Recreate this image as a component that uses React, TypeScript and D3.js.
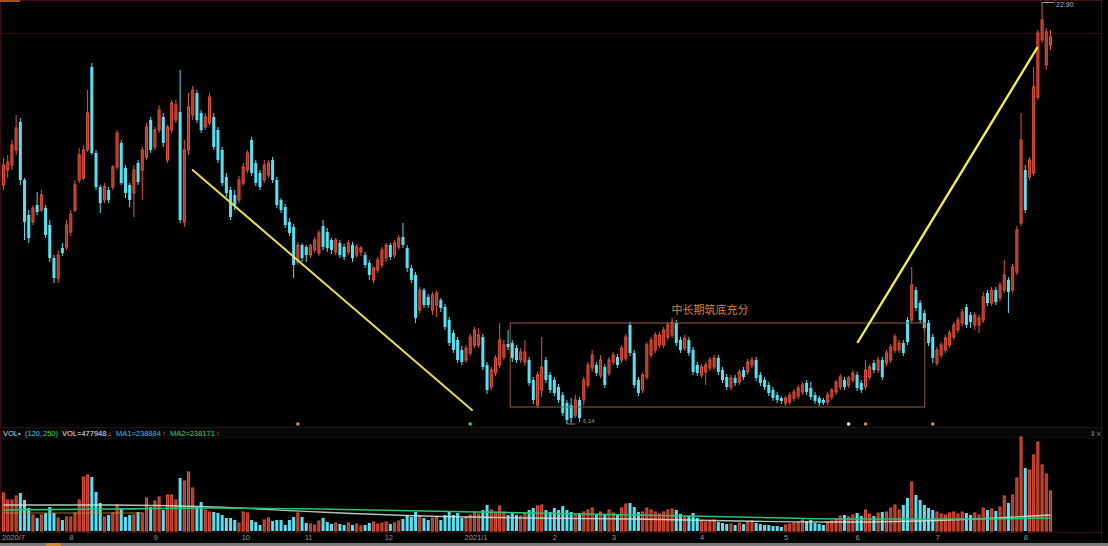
import React, { useEffect, useRef } from "react";
import * as d3 from "d3";

// ---------- price data (daily candles) ----------
const opens = [
  15.70,16.30,16.50,17.10,18.22,15.90,14.50,14.22,14.90,14.70,
  14.78,14.10,12.78,11.98,13.18,13.22,13.82,14.70,15.90,15.98,
  17.10,20.42,16.98,15.62,15.10,15.50,15.62,16.42,17.38,16.38,
  15.70,15.38,16.58,16.30,16.82,18.30,17.22,17.90,18.42,16.70,
  17.90,18.30,18.62,14.22,17.10,18.50,19.38,18.58,18.02,18.18,
  18.42,17.90,17.10,16.02,15.50,15.30,15.10,15.78,16.30,17.50,
  16.58,16.18,15.90,16.10,16.70,15.90,15.10,14.82,14.22,14.02,
  12.62,13.30,13.22,12.90,13.10,12.98,14.06,13.82,13.50,13.02,
  13.38,13.22,13.02,13.30,12.90,13.02,12.90,12.58,11.90,12.30,
  12.50,12.78,13.30,12.90,13.22,13.62,13.18,12.38,12.10,10.70,
  11.50,11.22,10.70,10.90,11.10,10.82,10.30,9.78,9.50,9.10,
  8.70,8.98,9.30,9.30,9.62,8.50,7.62,8.18,8.50,8.82,
  9.34,9.38,9.18,8.70,8.62,8.70,7.90,6.90,7.50,8.70,
  8.10,7.90,7.62,7.30,6.98,6.90,6.50,7.10,7.10,7.70,
  8.38,8.50,8.10,8.42,8.18,8.62,8.82,8.70,8.78,10.10,
  8.98,7.90,7.50,8.02,8.90,9.10,9.30,9.30,9.62,9.70,
  10.18,9.50,9.18,9.50,9.10,8.50,8.10,8.22,8.38,8.42,
  8.78,8.30,8.02,7.62,7.98,7.82,8.30,8.22,8.50,8.70,
  8.10,7.90,7.70,7.50,7.30,7.18,6.98,7.02,7.18,7.26,
  7.42,7.78,7.58,7.30,7.18,7.10,7.02,7.22,7.42,7.62,
  7.90,7.70,7.90,8.10,7.78,7.62,8.02,8.58,8.30,8.70,
  8.58,8.70,9.10,9.10,9.38,10.30,10.30,11.50,10.98,10.58,
  10.18,9.62,8.58,8.90,9.10,9.30,9.62,9.90,10.18,10.82,
  10.50,10.10,10.10,10.30,11.38,10.98,11.50,11.18,11.50,11.90,
  11.50,12.22,14.18,16.30,16.02,16.18,19.22,21.50,20.50,21.30,
];

const closes = [
  16.50,16.62,17.30,17.98,15.90,14.22,13.58,14.78,14.62,15.30,
  13.70,12.78,11.98,12.90,12.98,14.10,14.54,15.70,16.90,17.10,
  18.58,16.98,15.62,14.98,15.62,15.10,16.42,17.78,15.78,15.38,
  15.10,16.30,15.82,17.10,18.02,17.10,17.90,18.70,17.38,18.02,
  18.98,18.90,14.30,17.10,18.82,19.50,18.30,17.90,18.42,19.22,
  17.22,16.70,15.78,15.38,14.42,14.90,15.90,16.42,16.98,16.18,
  15.78,15.62,16.50,16.58,15.90,14.90,14.70,14.10,13.78,12.50,
  13.30,12.78,12.90,13.26,13.50,13.78,13.22,13.18,13.10,13.50,
  12.90,12.82,13.38,12.78,13.22,13.18,12.50,12.10,12.38,12.70,
  13.10,13.30,12.82,13.38,13.58,13.30,12.38,11.90,10.38,11.50,
  10.90,10.90,11.30,11.38,10.78,10.02,9.38,9.10,8.70,8.62,
  9.18,9.62,9.90,9.70,8.42,7.50,8.30,8.78,9.50,9.30,
  9.22,8.78,8.70,9.02,9.02,7.78,7.10,8.10,8.42,7.90,
  7.50,7.38,7.10,6.58,6.30,6.38,7.10,6.38,7.90,8.50,
  8.90,8.18,8.70,7.70,8.70,8.90,8.50,9.18,9.62,8.98,
  7.70,7.38,8.10,9.30,9.50,9.70,9.70,9.90,10.10,10.22,
  9.38,9.10,9.58,8.98,8.22,8.18,8.42,8.50,8.70,8.78,
  8.22,7.90,7.62,7.98,7.78,8.22,8.02,8.62,8.70,7.98,
  7.78,7.62,7.38,7.18,7.10,7.06,7.18,7.30,7.42,7.58,
  7.70,7.42,7.22,7.06,6.98,6.98,7.30,7.50,7.82,8.02,
  7.62,7.98,8.18,7.58,7.50,8.30,8.42,8.30,8.70,8.02,
  8.98,9.22,9.62,9.38,8.98,9.42,11.70,10.78,10.30,9.98,
  9.38,8.78,9.10,9.30,9.58,9.78,10.10,10.30,10.62,10.10,
  10.22,10.50,10.38,11.22,10.98,11.50,11.02,11.70,12.10,11.42,
  12.42,13.90,17.50,14.70,16.70,19.62,21.78,22.30,21.82,21.62,
];

const highs = [
  16.78,16.90,17.50,18.50,18.38,15.98,14.70,14.90,15.42,15.50,
  14.90,14.30,12.90,13.10,13.38,14.30,14.70,15.90,17.18,17.30,
  19.50,20.58,17.10,15.70,15.78,15.62,16.50,17.90,17.50,16.50,
  15.78,16.50,16.70,17.22,18.18,18.42,18.02,18.90,18.58,18.10,
  19.10,19.10,20.30,17.50,19.38,19.66,19.50,18.70,18.58,19.38,
  18.58,18.02,17.22,16.18,15.62,15.50,16.06,16.58,17.10,17.62,
  16.70,16.30,16.70,16.70,16.82,16.02,15.18,14.94,14.38,14.14,
  13.42,13.38,13.30,13.34,13.62,13.90,14.30,13.98,13.58,13.58,
  13.50,13.34,13.50,13.42,13.34,13.26,13.02,12.70,12.46,12.82,
  13.22,13.38,13.38,13.50,13.70,14.18,13.30,12.50,12.22,11.62,
  11.58,11.34,11.42,11.50,11.18,10.94,10.42,9.90,9.62,9.26,
  9.30,9.74,10.02,9.98,9.74,8.62,8.42,8.90,10.18,9.50,
  9.90,9.50,9.30,9.18,9.50,8.82,8.02,8.22,9.62,8.82,
  8.22,8.02,7.74,7.42,7.10,7.18,7.30,7.22,8.02,8.62,
  9.10,8.62,8.90,8.54,8.82,9.02,8.94,9.30,9.74,10.22,
  9.10,8.02,8.22,9.42,9.62,9.82,9.82,10.02,10.22,10.38,
  10.30,9.62,9.70,9.62,9.22,8.62,8.54,8.62,8.82,8.90,
  8.90,8.42,8.14,8.10,8.10,8.34,8.42,8.74,8.82,8.82,
  8.22,8.02,7.82,7.62,7.42,7.26,7.26,7.42,7.54,7.70,
  7.82,7.90,7.82,7.42,7.26,7.18,7.42,7.58,7.90,8.14,
  8.02,8.06,8.30,8.22,7.90,8.70,8.54,8.70,8.82,8.82,
  9.10,9.34,9.74,9.50,9.50,10.42,12.42,11.62,11.10,10.70,
  10.30,9.74,9.22,9.42,9.70,9.90,10.22,10.42,10.74,10.94,
  10.62,10.62,10.50,11.42,11.50,11.62,11.62,11.82,12.70,12.02,
  12.54,14.06,18.58,16.50,16.82,20.42,21.90,22.90,21.98,21.90,
];

const lows = [
  15.50,15.98,16.30,16.90,15.70,13.50,13.38,14.10,14.50,14.62,
  13.58,12.62,11.78,11.78,12.86,13.10,13.66,14.62,15.78,15.90,
  17.02,16.90,15.50,14.58,14.98,14.98,15.50,16.30,15.70,15.18,
  14.82,14.42,15.70,15.10,16.70,16.98,17.10,17.78,17.22,16.58,
  17.78,18.18,14.18,14.02,16.90,18.30,18.18,17.78,17.90,18.10,
  17.10,16.58,15.66,15.22,14.30,14.70,14.98,15.66,16.18,16.06,
  15.66,15.50,15.78,15.98,15.78,14.78,14.58,13.98,13.66,11.98,
  12.50,12.62,12.62,12.78,12.98,12.86,13.10,13.02,12.94,12.90,
  12.78,12.70,12.90,12.62,12.78,12.86,12.38,11.90,11.78,12.18,
  12.38,12.62,12.70,12.78,13.10,13.18,12.22,11.78,10.18,10.58,
  10.78,10.78,10.50,10.42,10.62,9.90,9.26,8.98,8.58,8.50,
  8.58,8.86,9.18,9.18,8.30,7.34,7.50,8.06,8.38,8.70,
  9.10,8.62,8.58,8.58,8.46,7.66,6.94,6.78,7.22,7.78,
  7.38,7.26,6.98,6.46,6.14,6.18,6.38,6.22,6.90,7.58,
  8.22,8.06,7.98,7.58,8.06,8.50,8.38,8.58,8.66,8.86,
  7.58,7.26,7.38,7.90,8.78,8.98,9.18,9.18,9.50,9.58,
  9.26,8.98,9.06,8.86,8.10,8.06,7.98,7.70,8.26,8.30,
  8.10,7.78,7.50,7.50,7.66,7.70,7.90,8.10,8.38,7.86,
  7.66,7.50,7.26,7.06,6.98,6.94,6.86,6.90,7.06,7.14,
  7.30,7.30,7.10,6.94,6.86,6.90,6.90,7.10,7.30,7.50,
  7.50,7.58,7.78,7.46,7.38,7.50,7.90,8.18,8.18,7.90,
  8.46,8.58,8.98,8.98,8.86,9.30,10.18,10.66,10.18,9.86,
  9.26,8.58,8.46,8.78,8.98,9.18,9.50,9.78,10.06,9.98,
  9.98,9.90,9.78,10.18,10.86,10.86,10.90,11.06,11.38,10.58,
  11.38,12.10,14.06,14.58,15.90,16.06,19.10,21.38,20.30,21.10,
];

// volume, thousands of shares
const volumes = [
  456,372,372,420,456,372,276,192,156,192,
  216,288,216,156,132,168,168,216,372,648,
  672,648,468,336,168,192,216,312,276,168,
  192,192,228,216,396,288,360,408,252,432,
  432,372,636,600,708,516,288,348,252,228,
  228,216,192,156,156,132,96,228,216,132,
  108,72,132,156,120,132,132,72,132,168,
  216,168,96,84,72,120,156,108,84,96,
  84,72,96,72,84,60,72,96,108,84,
  96,108,84,96,120,144,192,168,228,180,
  156,132,156,168,132,192,228,192,216,156,
  168,192,228,204,252,312,252,228,300,228,
  192,216,192,180,216,252,276,300,312,252,
  228,276,252,300,252,228,192,216,228,252,
  276,192,228,204,252,216,192,276,324,336,
  288,228,228,276,252,228,204,228,252,264,
  252,204,168,180,216,156,120,108,120,132,
  108,96,84,84,72,96,84,108,120,96,
  84,72,72,60,60,48,72,84,96,108,
  132,120,132,96,84,72,108,120,144,180,
  192,168,192,216,180,252,204,180,216,228,
  228,276,312,252,312,396,588,432,372,312,
  276,252,228,204,192,216,228,204,228,216,
  192,216,192,276,252,264,240,288,420,336,
  432,636,1128,756,732,912,1068,792,684,480,
];

// volume moving averages, read at sample candles
const maIndex = [0, 25, 50, 75, 100, 125, 150, 175, 200, 225, 249];
const volMA1 = [312, 312, 288, 228, 180, 156, 144, 120, 108, 132, 192];
const volMA2 = [252, 264, 276, 264, 240, 216, 192, 168, 144, 144, 156];
const volMA3Index = [0, 15, 33];
const volMA3 = [216, 216, 216];

// month axis
const monthLabels = ["2020/7", "8", "9", "10", "11", "12", "2021/1", "2", "3", "4", "5", "6", "7", "8"];
const monthIndex = [0, 16, 36, 57, 72, 91, 110, 131, 145, 166, 186, 203, 222, 243];

// annotations (index, price)
const trendLines: number[][] = [
  [45, 16.3, 111.4, 6.7],
  [203.2, 9.42, 245.8, 21.18],
];
const zone = [120.5, 219.1, 10.18, 6.82];
const zoneLabel = "中长期筑底充分";
const zoneLabelAt = [168, 10.54];
const markerIndex = [70, 111, 201, 205, 221];
const highIndex = 247;
const lowIndex = 134;

// volume header
const headerParts = ["VOL•", "(120,", "250)", "VOL=477948", "↓", "MA1=238884", "↑", "MA2=238171", "↑"];

export default function App() {
  const ref = useRef<SVGSVGElement>(null);

  useEffect(() => {
    document.body.style.margin = "0";
    document.body.style.background = "#000";
    const svg = d3.select(ref.current as SVGSVGElement);
    svg.selectAll("*").remove();

    const W = 1108, H = 546;
    const N = opens.length;
    const RED = "#e4533e", RED_FILL = "#a0301f", CYAN = "#58dff0";

    const x = d3.scaleBand<number>().domain(d3.range(N)).range([2, 1052]).paddingInner(0.28);
    const bw = x.bandwidth();
    const step = x.step();
    const cx = (i: number) => (x(0) as number) + i * step + bw / 2;
    const y = d3.scaleLinear().domain([6.3, 22.9]).range([420, 5]);
    const yv = d3.scaleLinear().domain([0, 1128]).range([531, 437]);

    svg.append("rect").attr("width", W).attr("height", H).attr("fill", "#000");

    // frame & grid
    const frame = svg.append("g").attr("fill", "none");
    frame.append("line").attr("x1", 0).attr("x2", 1101).attr("y1", 0.5).attr("y2", 0.5).attr("stroke", "#4a1010");
    frame.append("line").attr("x1", 0).attr("x2", 1101).attr("y1", 33.5).attr("y2", 33.5).attr("stroke", "#2c0b0b");
    frame.append("line").attr("x1", 0.5).attr("x2", 0.5).attr("y1", 0).attr("y2", 533).attr("stroke", "#3a0c0c");
    frame.append("line").attr("x1", 1101.5).attr("x2", 1101.5).attr("y1", 0).attr("y2", 546).attr("stroke", "#3a0c0c");
    frame.append("line").attr("x1", 0).attr("x2", 1101).attr("y1", 427.5).attr("y2", 427.5).attr("stroke", "#241010");
    svg.append("rect").attr("x", 1).attr("y", 428).attr("width", 1100).attr("height", 11).attr("fill", "#080808");
    frame.append("line").attr("x1", 0).attr("x2", 1101).attr("y1", 532.5).attr("y2", 532.5).attr("stroke", "#3a0c0c");
    svg.append("rect").attr("x", 0).attr("y", 0).attr("width", 20).attr("height", 2).attr("fill", "#a05020");

    // candles
    const cg = svg.append("g");
    d3.range(N).forEach((i) => {
      const up = closes[i] >= opens[i];
      const col = up ? RED : CYAN;
      const c = cx(i);
      const top = y(Math.max(opens[i], closes[i]));
      const bot = y(Math.min(opens[i], closes[i]));
      cg.append("line").attr("x1", c).attr("x2", c).attr("y1", y(highs[i])).attr("y2", y(lows[i]))
        .attr("stroke", col).attr("stroke-width", 1);
      if (up) {
        cg.append("rect").attr("x", c - bw / 2 + 0.5).attr("y", top).attr("width", bw - 1)
          .attr("height", Math.max(1, bot - top)).attr("fill", RED_FILL).attr("stroke", RED).attr("stroke-width", 1);
      } else {
        cg.append("rect").attr("x", c - bw / 2).attr("y", top).attr("width", bw)
          .attr("height", Math.max(1, bot - top)).attr("fill", CYAN);
      }
    });

    // zone box + label
    svg.append("rect").attr("x", cx(zone[0])).attr("y", y(zone[2]))
      .attr("width", cx(zone[1]) - cx(zone[0])).attr("height", y(zone[3]) - y(zone[2]))
      .attr("fill", "none").attr("stroke", "#93603a").attr("stroke-width", 1);
    svg.append("text").attr("x", cx(zoneLabelAt[0])).attr("y", y(zoneLabelAt[1]))
      .attr("text-anchor", "middle").attr("font-family", "'Noto Sans CJK SC', sans-serif")
      .attr("font-size", 11).attr("fill", "#d4843c").text(zoneLabel);

    // trend lines
    const tColors = ["#e4dc58", "#f2ef4a"];
    trendLines.forEach((t, k) => {
      svg.append("line").attr("x1", cx(t[0])).attr("y1", y(t[1])).attr("x2", cx(t[2])).attr("y2", y(t[3]))
        .attr("stroke", tColors[k]).attr("stroke-width", k === 0 ? 2 : 2.4).attr("stroke-linecap", "round");
    });

    // high / low labels
    const hx = cx(highIndex), hy = y(highs[highIndex]);
    svg.append("path").attr("d", `M${hx},${hy} V2.5 H${hx + 12}`).attr("fill", "none").attr("stroke", "#bbb").attr("stroke-width", 0.8);
    svg.append("text").attr("x", hx + 14).attr("y", 6.5).attr("font-family", "'Liberation Sans', Arial, sans-serif")
      .attr("font-size", 7).attr("fill", "#bbb").text(d3.format(".2f")(highs[highIndex]));
    const lx = cx(lowIndex), ly = y(lows[lowIndex]);
    svg.append("path").attr("d", `M${lx},${ly} H${lx + 8}`).attr("fill", "none").attr("stroke", "#aaa").attr("stroke-width", 0.8);
    svg.append("text").attr("x", lx + 16).attr("y", ly - 1).attr("font-family", "'Liberation Sans', Arial, sans-serif")
      .attr("font-size", 6).attr("fill", "#999").text(d3.format(".2f")(lows[lowIndex]));

    // event markers
    const mColors = ["#e08a40", "#40d060", "#f0f0f0", "#e08a40", "#e08a40"];
    markerIndex.forEach((m, k) => {
      svg.append("circle").attr("cx", cx(m)).attr("cy", 424).attr("r", 1.8).attr("fill", mColors[k]);
    });

    // volume header
    const hxPos = [3, 25, 43, 62, 108, 116, 162, 170, 216];
    const hCols = ["#c8c8c8", "#34c6e4", "#34d066", "#e4e4e4", "#e0c040", "#34b8ea", "#e24a36", "#34d066", "#e24a36"];
    headerParts.forEach((s, k) => {
      svg.append("text").attr("x", hxPos[k]).attr("y", 436).attr("font-family", "'Liberation Sans', Arial, sans-serif")
        .attr("font-size", 7.5).attr("fill", hCols[k]).text(s);
    });
    svg.append("text").attr("x", 1090).attr("y", 436).attr("font-family", "'DejaVu Sans', sans-serif")
      .attr("font-size", 7).attr("fill", "#888").text("↕×");

    // volume bars
    const vg = svg.append("g");
    d3.range(N).forEach((i) => {
      const up = closes[i] >= opens[i];
      const c = cx(i);
      const t = yv(volumes[i]);
      if (up) {
        vg.append("rect").attr("x", c - bw / 2 + 0.5).attr("y", t).attr("width", bw - 1)
          .attr("height", Math.max(0.5, 531 - t)).attr("fill", RED_FILL).attr("stroke", RED).attr("stroke-width", 1);
      } else {
        vg.append("rect").attr("x", c - bw / 2).attr("y", t).attr("width", bw)
          .attr("height", Math.max(0.5, 531 - t)).attr("fill", CYAN);
      }
    });

    // volume MAs
    const mk = (idx: number[], arr: number[]) =>
      d3.line<number>().x((_, k) => cx(idx[k])).y((v) => yv(v)).curve(d3.curveMonotoneX)(arr) as string;
    svg.append("path").attr("d", mk(volMA3Index, volMA3)).attr("fill", "none").attr("stroke", "#c89040").attr("stroke-width", 1.1).attr("opacity", 0.8);
    svg.append("path").attr("d", mk(maIndex, volMA1)).attr("fill", "none").attr("stroke", "#cfe6dc").attr("stroke-width", 1.3).attr("opacity", 0.85);
    svg.append("path").attr("d", mk(maIndex, volMA2)).attr("fill", "none").attr("stroke", "#22c870").attr("stroke-width", 1.6);

    // month axis
    monthLabels.forEach((m, k) => {
      svg.append("text").attr("x", cx(monthIndex[k]) - 1.5).attr("y", 540)
        .attr("font-family", "'Liberation Sans', Arial, sans-serif").attr("font-size", 7.5)
        .attr("fill", "#9a9a9a").text(m);
    });

    // bottom strip
    svg.append("rect").attr("x", 0).attr("y", 543).attr("width", W).attr("height", 3).attr("fill", "#7a7a7a");
    svg.append("rect").attr("x", 46).attr("y", 543).attr("width", 15).attr("height", 3).attr("fill", "#d08a30");
  }, []);

  return (
    <svg
      ref={ref}
      width={1108}
      height={546}
      style={{ display: "block", position: "absolute", left: 0, top: 0, background: "#000" }}
    />
  );
}
